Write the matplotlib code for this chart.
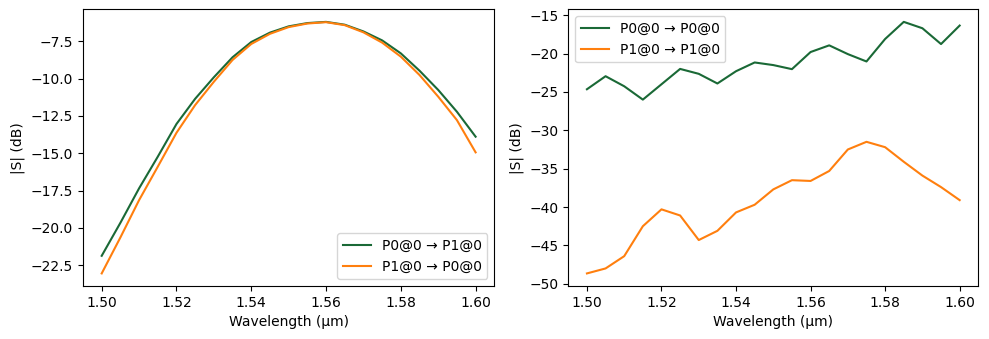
import matplotlib
matplotlib.use("Agg")
import matplotlib.pyplot as plt
import numpy as np

wavelength = [1.500, 1.505, 1.510, 1.515, 1.520, 1.525, 1.530, 1.535, 1.540, 1.545,
              1.550, 1.555, 1.560, 1.565, 1.570, 1.575, 1.580, 1.585, 1.590, 1.595, 1.600]

# Left panel: transmission
s_p0_p1 = [-21.87, -19.66, -17.35, -15.23, -13.04, -11.35, -9.91, -8.57, -7.55, -6.92,
           -6.50, -6.28, -6.20, -6.39, -6.84, -7.44, -8.31, -9.47, -10.76, -12.22, -13.89]
s_p1_p0 = [-23.05, -20.64, -18.14, -15.90, -13.63, -11.77, -10.21, -8.75, -7.68, -7.00,
           -6.55, -6.31, -6.22, -6.42, -6.90, -7.59, -8.53, -9.76, -11.21, -12.78, -14.94]

# Right panel: reflection
s_p0_p0 = [-24.65, -22.95, -24.26, -26.0, -24.0, -22.0, -22.64, -23.9, -22.3, -21.16,
           -21.5, -22.03, -19.8, -18.93, -20.07, -21.03, -18.1, -15.87, -16.7, -18.76, -16.35]
s_p1_p1 = [-48.65, -48.0, -46.4, -42.5, -40.3, -41.1, -44.3, -43.1, -40.7, -39.7,
           -37.7, -36.5, -36.6, -35.3, -32.5, -31.5, -32.2, -34.1, -35.9, -37.4, -39.1]

green = "#1a6936"
orange = "#ff7f0e"

fig = plt.figure(figsize=(9.89, 3.39), dpi=100)
ax1 = fig.add_axes([83/989, 53/339, 411.3/989, 276.7/339])
ax2 = fig.add_axes([568.3/989, 53/339, 410/989, 276.7/339])

ax1.plot(wavelength, s_p0_p1, color=green, label="P0@0 → P1@0")
ax1.plot(wavelength, s_p1_p0, color=orange, label="P1@0 → P0@0")
ax1.set_xlabel("Wavelength (µm)")
ax1.set_ylabel("|S| (dB)")
ax1.legend(loc="lower right")

ax2.plot(wavelength, s_p0_p0, color=green, label="P0@0 → P0@0")
ax2.plot(wavelength, s_p1_p1, color=orange, label="P1@0 → P1@0")
ax2.set_xlabel("Wavelength (µm)")
ax2.set_ylabel("|S| (dB)")
ax2.legend(loc="upper left")

fig.savefig("out.png", dpi=100)
